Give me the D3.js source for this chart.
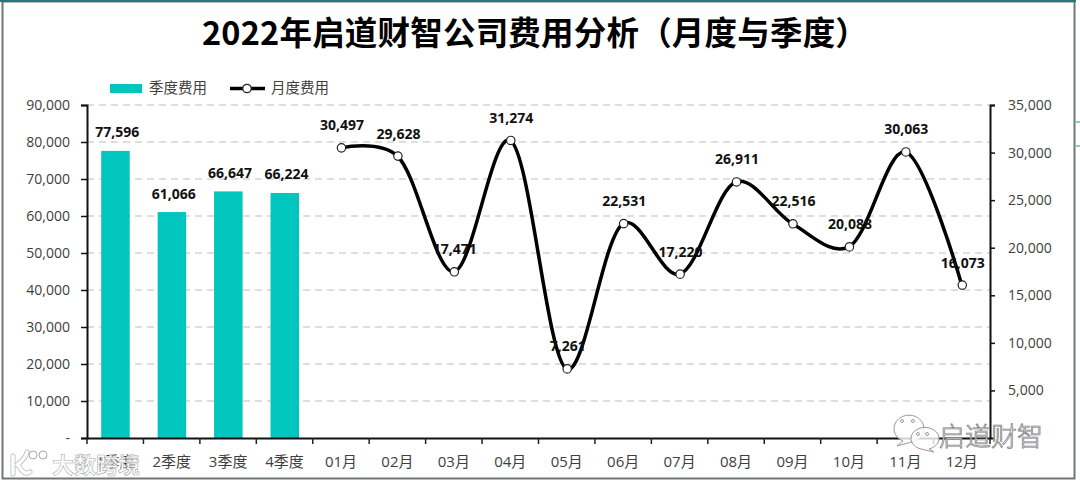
<!DOCTYPE html>
<html><head><meta charset="utf-8">
<script src="https://cdn.jsdelivr.net/npm/d3@7/dist/d3.min.js"></script>
<style>
html,body{margin:0;padding:0;background:#fff;overflow:hidden}
svg{display:block}
text{font-family:"Open Sans","Noto Sans CJK SC",sans-serif}
</style></head><body><svg id="c" width="1080" height="483"></svg>
<script>
const quarterLabels=["1季度","2季度","3季度","4季度"];
const monthLabels=["01月","02月","03月","04月","05月","06月","07月","08月","09月","10月","11月","12月"];
const quarterValues=[77596,61066,66647,66224];
const monthValues=[30497,29628,17471,31274,7261,22531,17220,26911,22516,20088,30063,16073];
const leftTicks=[0,10000,20000,30000,40000,50000,60000,70000,80000,90000];
const rightTicks=[5000,10000,15000,20000,25000,30000,35000];
const titleText="2022年启道财智公司费用分析（月度与季度）";
const seriesNames=["季度费用","月度费用"];

const svg=d3.select("#c");
const plot={l:87,r:990,t:105,b:438};
const cats=quarterLabels.concat(monthLabels);
const x=d3.scaleBand().domain(cats).range([plot.l,plot.r]).padding(0);
const yL=d3.scaleLinear().domain([0,90000]).range([plot.b,plot.t]);
const yR=d3.scaleLinear().domain([0,35000]).range([plot.b,plot.t]);
const fmt=d3.format(",");

// window frame
svg.append("rect").attr("x",2.5).attr("y",1.5).attr("width",1072).attr("height",477).attr("fill","#fff").attr("stroke","#6f7679").attr("stroke-width",2);
svg.append("line").attr("x1",0).attr("x2",1076).attr("y1",1).attr("y2",1).attr("stroke","#1f7a78").attr("stroke-width",2);
[122,146].forEach(v=>svg.append("line").attr("x1",1076).attr("x2",1080).attr("y1",v).attr("y2",v).attr("stroke","#2e8b74"));

// title
svg.append("text").attr("x",535).attr("y",45).attr("text-anchor","middle").attr("font-size",32.5).attr("letter-spacing",.2).attr("font-weight",700).attr("fill","#000").style("font-family",'"Noto Sans CJK SC",sans-serif').text(titleText);

// grid
svg.append("g").selectAll("line").data(leftTicks.slice(1)).join("line")
 .attr("x1",plot.l).attr("x2",plot.r).attr("y1",d=>yL(d)).attr("y2",d=>yL(d))
 .attr("stroke","#d4d4d4").attr("stroke-width",1.4).attr("stroke-dasharray","7 5");

// bars
svg.append("g").selectAll("rect").data(quarterValues).join("rect")
 .attr("x",(d,i)=>x(quarterLabels[i])+x.bandwidth()/2-14).attr("width",28.5)
 .attr("y",d=>yL(d)).attr("height",d=>yL(0)-yL(d)).attr("fill","#00c6be");

// axes
const axL=d3.axisLeft(yL).tickValues(leftTicks).tickSize(6).tickPadding(11).tickFormat(d=>d===0?"-":fmt(d));
const gL=svg.append("g").attr("transform",`translate(${plot.l},0)`).call(axL);
const axR=d3.axisRight(yR).tickValues(rightTicks).tickSize(5).tickPadding(13).tickFormat(fmt);
const gR=svg.append("g").attr("transform",`translate(${plot.r},0)`).call(axR);
const axB=d3.axisBottom(x).tickSize(0).tickPadding(18);
const gB=svg.append("g").attr("transform",`translate(0,${plot.b})`).call(axB);
svg.append("g").selectAll("line").data(d3.range(cats.length+1)).join("line")
 .attr("x1",i=>plot.l+i*x.step()).attr("x2",i=>plot.l+i*x.step()).attr("y1",plot.b).attr("y2",plot.b+6).attr("stroke","#222").attr("stroke-width",1.5);
[gL,gR,gB].forEach(g=>{g.selectAll(".domain").attr("stroke","#111").attr("stroke-width",2);
 g.selectAll(".tick line").attr("stroke","#111").attr("stroke-width",1.5);
 g.selectAll("text").attr("font-size",14).attr("fill","#404040").attr("font-family",null);});
gB.selectAll("text").attr("dy","0.71em").attr("font-size",15);

// line
const pts=monthValues.map((v,i)=>[x(monthLabels[i])+x.bandwidth()/2,yR(v)]);
svg.append("path").attr("d",d3.line().curve(d3.curveCatmullRom.alpha(0.2))(pts)).attr("fill","none").attr("stroke","#000").attr("stroke-width",3.5);
svg.append("g").selectAll("circle").data(pts).join("circle").attr("cx",d=>d[0]+.5).attr("cy",d=>d[1]).attr("r",4.2)
 .attr("fill","#fff").attr("stroke","#222").attr("stroke-width",1.2);

// labels
const lbl=(px,py,t)=>svg.append("text").attr("x",px).attr("y",py).attr("text-anchor","middle").attr("font-size",14).attr("font-weight",700).attr("fill","#111").text(t);
quarterValues.forEach((v,i)=>lbl(x(quarterLabels[i])+x.bandwidth()/2+2,yL(v)-13.5,fmt(v)));
monthValues.forEach((v,i)=>lbl(pts[i][0]+1,pts[i][1]-17.5,fmt(v)));

// legend
svg.append("rect").attr("x",110).attr("y",84).attr("width",32).attr("height",9).attr("fill","#00c6be");
svg.append("text").attr("x",149).attr("y",93).attr("font-size",14.5).attr("fill","#404040").text(seriesNames[0]);
svg.append("line").attr("x1",230).attr("x2",265).attr("y1",88.5).attr("y2",88.5).attr("stroke","#000").attr("stroke-width",3.5);
svg.append("circle").attr("cx",247).attr("cy",88.5).attr("r",4.2).attr("fill","#fff").attr("stroke","#222").attr("stroke-width",1.2);
svg.append("text").attr("x",271).attr("y",93).attr("font-size",14.5).attr("fill","#404040").text(seriesNames[1]);

// watermarks: left logo mark
const wm=svg.append("g").attr("fill","none");
wm.append("path").attr("d","M13 456 L13 474 M17 465 Q26 458 27 452 M19 466 Q24 476 30 472").attr("stroke","#bbb").attr("stroke-width",5).attr("stroke-linecap","round");
wm.append("path").attr("d","M13 456 L13 474 M17 465 Q26 458 27 452 M19 466 Q24 476 30 472").attr("stroke","#fff").attr("stroke-width",3.4).attr("stroke-linecap","round");
wm.append("circle").attr("cx",33).attr("cy",455).attr("r",4).attr("fill","#fff").attr("stroke","#aaa");
wm.append("circle").attr("cx",43).attr("cy",455).attr("r",4).attr("fill","#fff").attr("stroke","#aaa");
svg.append("text").attr("x",52).attr("y",473).attr("font-size",22).attr("font-weight",700).attr("fill","#fff").attr("fill-opacity",.85).attr("stroke","#aaa").attr("stroke-width",.6).style("font-family",'"Noto Sans CJK SC"').text("大数跨境");

// watermark: wechat-style bubbles
const w2=svg.append("g").attr("fill","#fff").attr("fill-opacity",.8).attr("stroke","#999");
w2.append("path").attr("d","M897 446 L903 441 A15 13.5 0 1 1 915 441 Z");
w2.append("path").attr("d","M934 452 L929 449 A14 11 0 1 0 921 449 Z");
[[902,421],[913,421],[918,434],[927,434]].forEach(p=>w2.append("circle").attr("cx",p[0]).attr("cy",p[1]).attr("r",1.5));
svg.append("text").attr("x",939).attr("y",446).attr("font-size",26).attr("fill","#fff").attr("stroke","#777").attr("stroke-width",.7).style("font-family",'"Noto Sans CJK SC"').style("font-weight",300).text("启道财智");
</script></body></html>
